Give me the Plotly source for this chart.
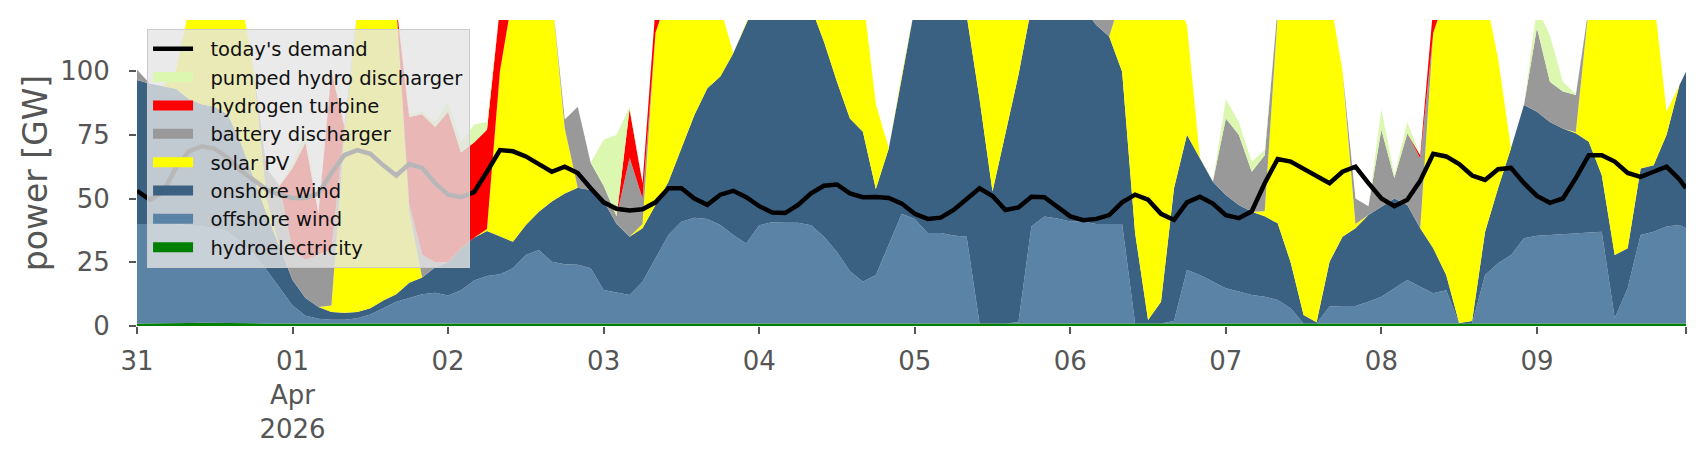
import pandas as pd
import plotly.graph_objects as go

# ---- time axis (every 2 hours from 31 Mar 2026 00:00, last point 9 Apr 23:00)
hours = list(range(0, 240, 2)) + [239]
start = pd.Timestamp("2026-03-31 00:00")
times = [start + pd.Timedelta(hours=h) for h in hours]

# ---- supply series [GW] (stack order bottom -> top)
hydro = [
    1.0, 1.0, 1.0, 1.0, 1.2, 1.3, 1.2, 1.1, 1.0, 1.0, 1.0, 1.0,
    1.0, 1.0, 1.0, 1.0, 1.1, 1.0, 1.0, 1.1, 1.2, 1.0, 1.0, 1.0,
    1.0, 1.0, 1.0, 1.0, 1.0, 1.1, 1.0, 1.0, 1.0, 1.0, 1.0, 1.0,
    1.0, 1.0, 1.0, 1.0, 1.0, 1.0, 1.0, 1.0, 1.0, 1.0, 1.0, 1.0,
    1.0, 1.0, 1.1, 1.0, 1.0, 1.0, 1.0, 1.0, 1.0, 1.0, 1.0, 1.0,
    1.0, 1.0, 1.0, 1.2, 1.0, 1.0, 1.0, 1.0, 1.0, 1.0, 1.0, 1.0,
    1.0, 1.0, 1.0, 1.0, 1.0, 1.0, 1.0, 1.0, 1.0, 1.0, 1.0, 1.1,
    1.0, 1.0, 1.0, 1.0, 1.0, 1.0, 1.0, 1.0, 1.0, 1.0, 1.0, 1.0,
    1.0, 1.0, 1.0, 1.0, 1.2, 1.0, 1.0, 1.0, 1.0, 1.0, 1.0, 1.0,
    1.0, 1.0, 1.0, 1.0, 1.0, 1.0, 1.0, 1.0, 1.0, 1.0, 1.0, 1.0, 1.0,
]
offshore = [
    39.0, 39.0, 39.0, 39.0, 38.3, 37.7, 37.3, 35.9, 32.0, 27.0, 21.0, 14.0,
    7.0, 3.0, 1.8, 1.5, 1.4, 2.0, 3.5, 5.9, 8.3, 10.0, 11.5, 12.0,
    11.0, 13.0, 16.8, 18.6, 19.3, 21.5, 26.8, 28.8, 24.2, 23.2, 23.0, 21.6,
    13.1, 12.1, 11.2, 16.4, 25.5, 34.7, 39.9, 41.5, 41.0, 38.6, 34.7, 31.4,
    38.5, 39.7, 39.4, 39.5, 38.5, 34.0, 28.0, 20.5, 16.4, 19.0, 31.0, 43.0,
    41.0, 35.5, 35.5, 34.3, 34.0, 0.0, 0.0, 0.0, 0.5, 38.0, 41.9, 41.2,
    40.0, 40.0, 39.0, 39.0, 39.0, 0.0, 0.0, 0.0, 1.0, 21.0, 19.0, 16.3,
    13.8, 12.5, 11.2, 10.5, 9.2, 6.0, 0.0, 0.0, 6.6, 6.8, 6.8, 8.5,
    10.5, 13.8, 17.0, 14.4, 11.6, 13.0, 0.0, 0.0, 19.0, 23.6, 26.8, 33.4,
    34.4, 34.7, 35.0, 35.3, 35.5, 36.0, 2.0, 13.8, 34.7, 36.0, 38.0, 38.6, 37.3,
]
onshore = [
    56.5, 55.0, 54.0, 53.0, 49.5, 48.0, 47.5, 46.0, 39.0, 30.0, 22.0, 16.0,
    10.0, 7.0, 4.7, 3.0, 2.7, 2.5, 2.5, 3.0, 3.0, 6.0, 6.5, 10.0,
    13.0, 16.5, 16.8, 17.7, 14.7, 10.4, 11.8, 15.0, 23.6, 27.8, 30.2, 30.7,
    34.9, 26.9, 22.8, 20.9, 21.0, 20.9, 28.8, 40.2, 51.2, 58.2, 71.3, 86.6,
    90.5, 89.3, 89.5, 89.5, 85.5, 76.5, 66.8, 59.9, 58.8, 33.7, 37.7, 54.4,
    83.0, 93.5, 93.5, 94.5, 87.0, 88.0, 51.7, 75.0, 96.9, 86.0, 87.1, 87.8,
    89.0, 84.0, 78.0, 73.5, 59.7, 35.5, 1.4, 8.5, 52.0, 53.0, 45.7, 39.2,
    36.6, 34.0, 32.6, 31.5, 30.1, 18.0, 3.3, 0.5, 17.6, 27.2, 30.5, 34.0,
    35.3, 35.2, 29.5, 22.9, 17.7, 6.0, 0.2, 1.0, 17.0, 29.4, 41.9, 52.3,
    48.6, 44.3, 41.5, 39.3, 35.8, 22.2, 24.8, 15.7, 26.1, 26.0, 36.0, 54.9, 61.4,
]
solar = [
    0, 0, 0, 7.0, 35.0, 43.0, 44.0, 47.0, 58.0, 42.0, 6.0, 0,
    0, 0, 0, 2.5, 69.8, 118.5, 123.0, 120.0, 113.5, 28.0, 0, 0,
    0, 0, 0, 0.7, 65.0, 97.0, 90.4, 85.2, 81.2, 25.5, 0, 0,
    0, 0, 0, 1.7, 67.5, 73.4, 60.3, 47.3, 36.8, 27.2, 0, 0,
    0, 0, 0, 0, 0, 18.5, 34.2, 48.6, 53.8, 33.3, 0, 0,
    0, 0, 0, 0, 0, 41.0, 77.3, 54.0, 31.6, 0, 0, 0,
    0, 0, 0, 0, 30.3, 93.5, 127.6, 120.5, 76.0, 43.0, 0.3, 0,
    0, 0, 0, 2.0, 81.7, 105.0, 125.7, 128.5, 104.8, 65.0, 1.7, 0,
    0, 0, 0, 0, 84.5, 110.0, 128.8, 128.0, 93.0, 51.0, 0, 0,
    0, 0, 0, 0.4, 52.7, 70.8, 102.2, 99.5, 68.2, 67.0, 9.0, 0, 0,
]
battery = [
    4.0, 0, 0, 0, 0, 0, 0, 0, 0, 0, 12.0, 24.0,
    12.0, 15.0, 20.5, 22.0, 3.0, 0, 0, 0, 0, 3.0, 9.0, 2.0,
    0, 0, 0, 0, 0, 0, 0, 0, 0, 3.5, 31.8, 10.7,
    6.0, 3.0, 31.0, 10.0, 0, 0, 0, 0, 0, 0, 0, 0,
    0, 0, 0, 0, 0, 0, 0, 0, 0, 0, 0, 0,
    0, 0, 0, 0, 0, 0, 0, 0, 0, 0, 0, 0,
    0, 0, 7.0, 11.5, 0, 0, 0, 0, 0, 0, 0, 0,
    30.0, 27.5, 15.7, 22.0, 3.0, 0, 0, 0, 0, 0, 10.0, 3.5,
    30.2, 8.0, 28.1, 27.4, 0, 0, 0, 0, 0, 0, 0, 0,
    33.0, 15.8, 14.5, 14.6, 0, 0, 0, 0, 0, 0, 0, 0, 0,
]
hydrogen = [
    0, 0, 0, 0, 0, 0, 0, 0, 0, 0, 0, 0,
    32.0, 46.0, 16.0, 70.0, 0, 0, 0, 0, 0, 34.0, 55.0, 53.0,
    59.0, 37.5, 37.4, 39.0, 25.0, 0, 0, 0, 0, 0, 0, 0,
    0, 0, 19.0, 6.0, 10.0, 0, 0, 0, 0, 0, 0, 0,
    0, 0, 0, 0, 0, 0, 0, 0, 0, 0, 0, 0,
    0, 0, 0, 0, 0, 0, 0, 0, 0, 0, 0, 0,
    0, 0, 0, 0, 0, 0, 0, 0, 0, 0, 0, 0,
    0, 0, 0, 0, 0, 0, 0, 0, 0, 0, 0, 0,
    0, 0, 0, 1.3, 10.0, 0, 0, 0, 0, 0, 0, 0,
    0, 0, 0, 0, 0, 0, 0, 0, 0, 0, 0, 0, 0,
]
pumped_hydro = [
    0, 0, 0, 0, 0, 0, 0, 0, 0, 0, 0, 0,
    2.0, 4.0, 0, 2.0, 0, 0, 0, 0, 0, 1.0, 1.0, 2.0,
    4.0, 4.0, 7.0, 3.0, 0, 0, 0, 0, 0, 0, 0, 0,
    18.0, 32.0, 1.0, 0, 0, 0, 0, 0, 0, 0, 0, 0,
    0, 0, 0, 0, 0, 0, 0, 0, 0, 0, 0, 0,
    0, 0, 0, 0, 0, 0, 0, 0, 0, 0, 0, 0,
    0, 0, 0, 0, 0, 0, 0, 0, 0, 0, 0, 0,
    7.6, 5.0, 3.9, 2.0, 0, 0, 0, 0, 0, 0, 0, 0,
    8.0, 1.2, 4.4, 0, 0, 0, 0, 0, 0, 0, 0, 0,
    8.0, 18.2, 3.8, 0.4, 0, 0, 0, 0, 0, 0, 0, 0, 0,
]
demand = [
    53, 49.5, 52.5, 62, 68.5, 70.5, 69.5, 66, 61, 57.5, 53.5, 51.4,
    50.2, 50.2, 52, 60, 67, 69, 67.5, 63, 59, 63.5, 62, 56,
    51.5, 50.5, 52.5, 60.5, 69, 68.5, 66.5, 63.5, 60.5, 62.5, 60, 54,
    48.5, 46, 45.3, 45.8, 48.5, 54, 54, 50, 47.5, 51.5, 53, 50.5,
    47, 44.5, 44.3, 47.5, 52, 55, 55.5, 52, 50.5, 50.6, 50.2, 48,
    44, 42, 42.5, 45.5, 50, 54, 51, 45.5, 46.5, 50.7, 50.5, 47,
    43, 41.5, 42, 43.5, 48.5, 51.5, 49.5, 44, 41.6, 48.5, 50.7, 48,
    43.5, 42.3, 45, 56, 65.5, 64.5, 61.5, 59, 56, 60.5, 62.5, 56,
    50, 47, 49.5, 57, 67.5, 66.5, 63.5, 59, 57.3, 61.5, 62, 56,
    51, 48.3, 50, 58, 67, 67, 64.5, 60, 58.5, 60.5, 62.5, 57.5, 54,
]

# ---- tick labels
tick_days = ["31", "01<br>Apr<br>2026", "02", "03", "04", "05", "06", "07", "08", "09"]
y_ticks = [0, 25, 50, 75, 100]

# name, values, colour, legend rank
series = [
    ("hydroelectricity", hydro, "#008000", 8),
    ("offshore wind", offshore, "#5b83a6", 7),
    ("onshore wind", onshore, "#3b6182", 6),
    ("solar PV", solar, "#ffff00", 5),
    ("battery discharger", battery, "#999999", 4),
    ("hydrogen turbine", hydrogen, "#ff0000", 3),
    ("pumped hydro discharger", pumped_hydro, "#dcf7b0", 2),
]
pad = "\u00a0\u00a0"  # gap between legend swatch and label

fig = go.Figure()
for name, vals, color, rank in series:
    fig.add_trace(go.Scatter(
        x=times, y=vals, name=name, mode="lines", stackgroup="supply",
        line=dict(width=0, color=color), fillcolor=color,
        showlegend=False, hoverinfo="skip",
    ))
fig.add_trace(go.Scatter(
    x=times, y=demand, name=pad + "today's demand", mode="lines",
    line=dict(color="black", width=4.5), legendrank=1, hoverinfo="skip",
))
# legend swatches (rectangles) for the stacked areas
for name, vals, color, rank in series:
    fig.add_trace(go.Scatter(
        x=[None], y=[None], name=pad + name, mode="lines",
        line=dict(color=color, width=14), legendrank=rank, hoverinfo="skip",
    ))

tickvals = [start + pd.Timedelta(days=d) for d in range(len(tick_days))] + [start + pd.Timedelta(hours=239)]
ticktext = tick_days + [""]

grey = "#555555"
fig.update_layout(
    width=1706, height=460,
    margin=dict(l=137, r=20, t=20, b=134),
    plot_bgcolor="white", paper_bgcolor="white",
    font=dict(family="DejaVu Sans", color=grey),
    showlegend=True,
    legend=dict(
        x=0.0065, y=0.972, xanchor="left", yanchor="top",
        bgcolor="rgba(229,229,229,0.8)", bordercolor="#cccccc", borderwidth=1,
        font=dict(family="DejaVu Sans", size=19.5, color="#111111"),
        traceorder="normal", itemwidth=40,
    ),
    xaxis=dict(
        range=[start, start + pd.Timedelta(hours=239)],
        tickmode="array", tickvals=tickvals, ticktext=ticktext,
        showgrid=False, zeroline=False, showline=False,
        ticks="outside", ticklen=7, tickwidth=1.5, tickcolor=grey,
        ticklabelstandoff=5,
        tickfont=dict(size=26, color=grey, family="DejaVu Sans"),
    ),
    yaxis=dict(
        range=[0, 120], tickmode="array", tickvals=y_ticks,
        showgrid=False, zeroline=False, showline=False,
        ticks="outside", ticklen=7, tickwidth=1.5, tickcolor=grey,
        ticklabelstandoff=14,
        tickfont=dict(size=26, color=grey, family="DejaVu Sans"),
        title=dict(text="power [GW]", font=dict(size=33, color=grey, family="DejaVu Sans"), standoff=2),
    ),
)

fig.write_html("out.html", config={"displayModeBar": False},
               post_script="document.body.style.margin='0';")
